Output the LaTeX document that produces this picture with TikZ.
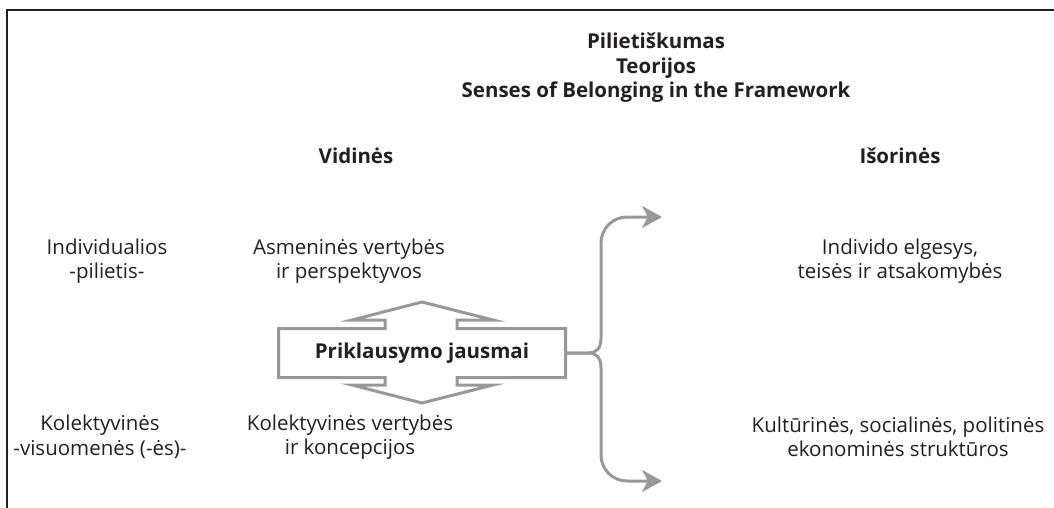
\documentclass[tikz,border=0pt]{standalone}
\usepackage{fontspec}
\setmainfont{Open Sans}
\usetikzlibrary{arrows.meta, calc, positioning}
\definecolor{txtgray}{HTML}{231F20}
\definecolor{linegray}{HTML}{98989C}

\begin{document}
\begin{tikzpicture}
  [
    x=1pt, y=-1pt,
    every node/.style = {font=\fontsize{20.5}{24.5}\selectfont, text=txtgray, align=center, inner sep=0pt},
    head/.style  = {font=\fontsize{20.5}{24.5}\selectfont\bfseries},
    frame/.style = {draw=txtgray, line width=1.2pt},
    outline/.style = {draw=linegray, fill=white, line width=3pt, line join=miter},
    flow/.style  = {draw=linegray, line width=3pt,
                    -{Stealth[length=20pt,width=22pt,inset=6pt]}},
  ]

  \useasboundingbox (0,0) rectangle (1054,508);

  % the cut frame
  \draw[frame] (1054,10) -- (7,10) -- (7,508);

  % headings
  \node (title) at (656,68) [head] {Pilietiškumas\\Teorijos\\Senses of Belonging in the Framework};
  \node (inner) at (356,156) [head] {Vidinės};
  \node (outer) at (900,156) [head] {Išorinės};

  % rows
  \node (indiv)   at (107,261) {Individualios\\-pilietis-};
  \node (collect) at (100,437) {Kolektyvinės\\-visuomenės (-ės)-};
  \node (ownval)  at (349,261) {Asmeninės vertybės\\ir perspektyvos};
  \node (colval)  at (350,437) {Kolektyvinės vertybės\\ir koncepcijos};
  \node (behave)  at (900,261) {Individo elgesys,\\teisės ir atsakomybės};
  \node (struct)  at (898,437) {Kultūrinės, socialinės, politinės\\ekonominės struktūros};

  % the double arrow box
  \def\bw{143.5}
  \def\bh{24.5}
  \draw[outline, shift={(422,353)}]
    (-\bw,-\bh) -- (-37,-\bh) -- (-37,-33) -- (-70,-33) -- (0,-51) -- (71,-33) -- (35,-33) -- (35,-\bh)
    -- (\bw,-\bh) -- (\bw,\bh) -- (35,\bh) -- (35,32) -- (71,32) -- (0,50) -- (-70,32) -- (-37,32) -- (-37,\bh)
    -- (-\bw,\bh) -- cycle;
  \node (pj) at (422,353) [head, minimum width=2*\bw pt, minimum height=2*\bh pt] {Priklausymo jausmai};

  % the brace
  \coordinate (up)   at (662,217);
  \coordinate (down) at (662,481);
  \draw[flow] (pj.east) -- (588,353) .. controls (597,353) and (601,358) .. (601,368)
    {[rounded corners=26pt] -- (601,481) -- (down)};
  \draw[flow] (pj.east) -- (588,353) .. controls (597,353) and (601,348) .. (601,338)
    {[rounded corners=26pt] -- (601,217) -- (up)};

\end{tikzpicture}
\end{document}
